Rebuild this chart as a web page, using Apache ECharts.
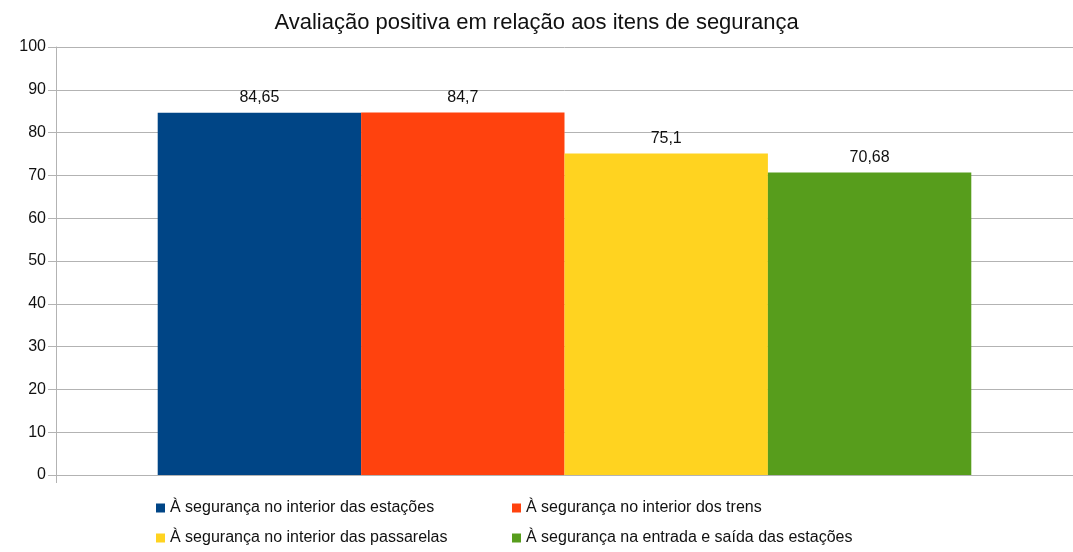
<!DOCTYPE html>
<html>
<head>
<meta charset="utf-8">
<script src="https://cdn.jsdelivr.net/npm/echarts@6/dist/echarts.min.js"></script>
<style>
html, body { margin: 0; padding: 0; background: #fff; }
#chart { width: 1073px; height: 552px; }
</style>
</head>
<body>
<div id="chart"></div>
<script>
var categories = [''];
var seriesNames = [
    'À segurança no interior das estações',
    'À segurança no interior dos trens',
    'À segurança no interior das passarelas',
    'À segurança na entrada e saída das estações'
];
var values = [84.65, 84.7, 75.1, 70.68];
var colors = ['#004586', '#ff420e', '#ffd320', '#579d1c'];
var yTicks = [0, 10, 20, 30, 40, 50, 60, 70, 80, 90, 100];

// legend slots: two columns, two rows
var legendLeft = [156, 512, 156, 512];
var legendTop = [500, 500, 530, 530];

var chart = echarts.init(document.getElementById('chart'));

var series = seriesNames.map(function (name, i) {
    return {
        name: name,
        type: 'bar',
        data: [values[i]],
        barGap: 0,
        barCategoryGap: '20%',
        itemStyle: { color: colors[i] },
        label: {
            show: true,
            position: 'top',
            distance: 7,
            color: '#111',
            fontSize: 16,
            fontFamily: 'Liberation Sans',
            formatter: function (p) { return String(p.value).replace('.', ','); }
        }
    };
});

var legends = seriesNames.map(function (name, i) {
    return {
        data: [name],
        left: legendLeft[i],
        top: legendTop[i],
        padding: 0,
        itemWidth: 9,
        itemHeight: 9,
        icon: 'rect',
        textStyle: { fontFamily: 'Liberation Sans', fontSize: 16, color: '#111' }
    };
});

chart.setOption({
    animation: false,
    title: {
        text: 'Avaliação positiva em relação aos itens de segurança',
        left: 'center',
        top: 7,
        textStyle: { fontFamily: 'Liberation Sans', fontSize: 22, fontWeight: 'normal', color: '#111' }
    },
    legend: legends,
    grid: { left: 56, right: -3, top: 47, bottom: 77 },
    xAxis: {
        type: 'category',
        data: categories,
        axisLine: { lineStyle: { color: '#b3b3b3' } },
        axisTick: { show: true, length: 8, lineStyle: { color: '#b3b3b3' } },
        axisLabel: { show: false }
    },
    yAxis: {
        type: 'value',
        min: yTicks[0],
        max: yTicks[yTicks.length - 1],
        interval: 10,
        axisLine: { show: true, lineStyle: { color: '#b3b3b3' } },
        axisTick: { show: true, length: 8, lineStyle: { color: '#b3b3b3' } },
        splitLine: { lineStyle: { color: '#b3b3b3' } },
        axisLabel: { fontFamily: 'Liberation Sans', fontSize: 16, color: '#111', margin: 10 }
    },
    series: series
});
</script>
</body>
</html>
